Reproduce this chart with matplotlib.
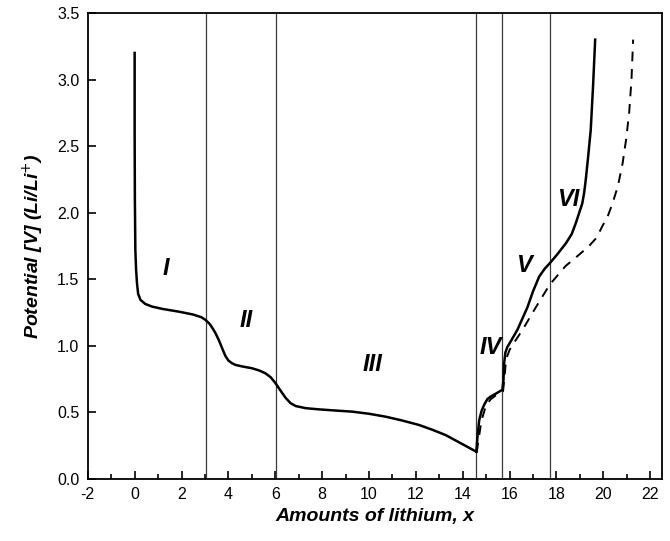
import numpy as np
import matplotlib.pyplot as plt
from matplotlib.ticker import MultipleLocator

plt.rcParams['font.family'] = ['Liberation Sans', 'DejaVu Sans']

# discharge (solid)
x_dis = [0.0, 0.0, 0.01, 0.03, 0.06, 0.1, 0.15, 0.25, 0.45, 0.74, 1.2, 1.88, 2.5,
         2.85, 3.02, 3.2, 3.35, 3.45, 3.6, 3.75, 3.87, 4.0, 4.15, 4.3, 4.6, 5.0,
         5.3, 5.58, 5.8, 6.01, 6.2, 6.44, 6.65, 6.87, 7.3, 7.86, 8.5, 9.28, 10.0,
         10.71, 11.4, 12.13, 12.7, 13.27, 13.9, 14.58]
y_dis = [3.2, 2.6, 2.1, 1.72, 1.58, 1.47, 1.39, 1.345, 1.315, 1.295, 1.277, 1.257, 1.235,
         1.215, 1.195, 1.165, 1.125, 1.095, 1.04, 0.975, 0.925, 0.89, 0.87, 0.857, 0.845, 0.832,
         0.816, 0.794, 0.765, 0.72, 0.67, 0.61, 0.57, 0.548, 0.532, 0.523, 0.515, 0.506, 0.49,
         0.468, 0.44, 0.406, 0.37, 0.33, 0.27, 0.205]

# charge, first (solid)
x_ch1 = [14.58, 14.62, 14.7, 14.8, 14.91, 15.05, 15.2, 15.45, 15.69, 15.74, 15.76,
         15.82, 15.9, 16.1, 16.33, 16.76, 17.0, 17.26, 17.5, 17.71, 18.0, 18.4,
         18.65, 18.82, 18.97, 19.1, 19.18, 19.25, 19.35, 19.46, 19.56, 19.65]
y_ch1 = [0.205, 0.3, 0.44, 0.51, 0.556, 0.6, 0.62, 0.645, 0.67, 0.75, 0.86,
         0.95, 0.99, 1.05, 1.12, 1.29, 1.41, 1.52, 1.58, 1.62, 1.68, 1.77,
         1.84, 1.92, 2.0, 2.07, 2.15, 2.25, 2.42, 2.62, 2.95, 3.3]

# charge, second (dashed)
x_ch2 = [14.6, 14.66, 14.8, 15.0, 15.2, 15.5, 15.72, 15.78, 15.85, 16.0, 16.25,
         16.55, 17.12, 17.71, 18.39, 19.0, 19.39, 19.7, 19.96, 20.2, 20.39, 20.62,
         20.82, 20.97, 21.1, 21.2, 21.27]
y_ch2 = [0.2, 0.28, 0.44, 0.556, 0.6, 0.64, 0.66, 0.76, 0.9, 0.97, 1.04,
         1.12, 1.29, 1.46, 1.6, 1.69, 1.75, 1.81, 1.9, 1.98, 2.07, 2.2,
         2.37, 2.55, 2.75, 3.0, 3.3]

# region boundaries and labels
x_bounds = [3.05, 6.04, 14.58, 15.69, 17.71]
region_labels = ['I', 'II', 'III', 'IV', 'V', 'VI']
label_x = [1.35, 4.75, 10.15, 15.2, 16.6, 18.5]
label_y = [1.58, 1.19, 0.86, 0.99, 1.6, 2.1]

fig = plt.figure(figsize=(6.7, 5.41), dpi=100)
ax = fig.add_axes([0.131, 0.1146, 0.857, 0.8614])

for xb in x_bounds:
    ax.axvline(xb, color='#3a3a3a', lw=0.9, zorder=1)

ax.plot(x_dis, y_dis, color='black', lw=1.8, zorder=3, solid_joinstyle='round')
ax.plot(x_ch1, y_ch1, color='black', lw=1.8, zorder=3, solid_joinstyle='round')
ax.plot(x_ch2, y_ch2, color='black', lw=1.4, ls=(0, (5, 4)), zorder=2)

for lab, lx, ly in zip(region_labels, label_x, label_y):
    ax.text(lx, ly, lab, fontsize=17, fontweight='bold', fontstyle='italic',
            ha='center', va='center')

ax.set_xlim(-2, 22.5)
ax.set_ylim(0, 3.5)
ax.xaxis.set_minor_locator(MultipleLocator(1))
ax.set_xticks(np.arange(-2, 23, 2))
ax.set_xticklabels([str(v) for v in range(-2, 23, 2)])
ax.set_yticks(np.arange(0, 3.51, 0.5))
ax.set_yticklabels(['%.1f' % v for v in np.arange(0, 3.51, 0.5)])
ax.tick_params(which='major', direction='in', length=6, width=1.2, labelsize=11.5,
               top=False, right=False, pad=6)
ax.tick_params(which='minor', direction='in', length=3.5, width=1.2,
               top=False, right=False)
for s in ax.spines.values():
    s.set_linewidth(1.3)

ax.set_xlabel('Amounts of lithium, x', fontsize=14, fontweight='bold',
              fontstyle='italic', labelpad=4)
ax.set_ylabel(r'Potential [V] (Li/Li$^{+}$)', fontsize=14, fontweight='bold',
              fontstyle='italic', labelpad=8)

fig.savefig('out.png', dpi=100)
